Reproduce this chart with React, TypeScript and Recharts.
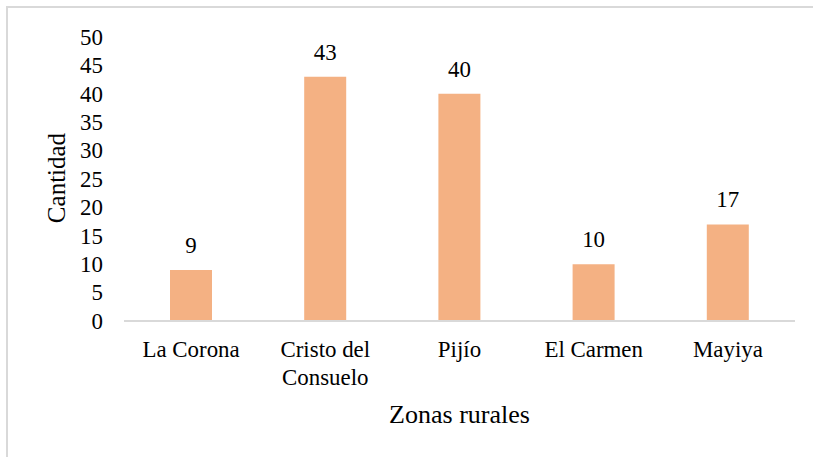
import { useEffect, useState } from 'react';
import { BarChart, Bar, XAxis, YAxis, LabelList, Label } from 'recharts';

const zonas = ['La Corona', 'Cristo del Consuelo', 'Pijío', 'El Carmen', 'Mayiya'];
const cantidad = [9, 43, 40, 10, 17];
const yTicks = [0, 5, 10, 15, 20, 25, 30, 35, 40, 45, 50];

const data = zonas.map((zona, i) => ({ zona, cantidad: cantidad[i] }));

const FONT = "'Times New Roman', 'Liberation Serif', serif";
const TICK_SIZE = 22.9;
const BAR_COLOR = '#F4B183';
const LINE_COLOR = '#D9D9D9';

const textStyle = (size: number) => ({ fontFamily: FONT, fontSize: size, fill: '#000' });

// greedy word wrap, roughly what fits in one category band
const wrap = (label: string, maxChars = 10) => {
  const lines: string[] = [];
  let cur = '';
  label.split(' ').forEach((w) => {
    const next = cur ? `${cur} ${w}` : w;
    if (next.length > maxChars && cur) {
      lines.push(cur);
      cur = w;
    } else {
      cur = next;
    }
  });
  if (cur) lines.push(cur);
  return lines;
};

const CategoryTick = (props: any) => {
  const { x, y, payload } = props;
  const lines = wrap(String(payload.value));
  return (
    <text x={x} y={y} textAnchor='middle' fontFamily={FONT} style={textStyle(TICK_SIZE)}>
      {lines.map((line, i) => (
        <tspan key={i} x={x} dy={i === 0 ? 16 : 28}>
          {line}
        </tspan>
      ))}
    </text>
  );
};

const ValueTick = (props: any) => {
  const { x, y, payload } = props;
  return (
    <text x={x} y={y} dy='0.34em' textAnchor='end' fontFamily={FONT} style={textStyle(TICK_SIZE)}>
      {payload.value}
    </text>
  );
};

const BarValue = (props: any) => {
  const { x, y, width, value } = props;
  return (
    <text
      x={Number(x) + Number(width) / 2}
      y={Number(y) - 17}
      textAnchor='middle'
      fontFamily={FONT}
      style={textStyle(TICK_SIZE)}
    >
      {value}
    </text>
  );
};

const XTitle = (props: any) => {
  const vb = props.viewBox || {};
  return (
    <text
      x={vb.x + vb.width / 2}
      y={vb.y + 102}
      textAnchor='middle'
      fontFamily={FONT}
      style={textStyle(26)}
    >
      Zonas rurales
    </text>
  );
};

const YTitle = (props: any) => {
  const vb = props.viewBox || {};
  const cx = vb.x + 21;
  const cy = vb.y + vb.height / 2 - 1;
  return (
    <text
      x={cx}
      y={cy}
      transform={`rotate(-90 ${cx} ${cy})`}
      textAnchor='middle'
      fontFamily={FONT}
      style={textStyle(25)}
    >
      Cantidad
    </text>
  );
};

export default function App() {
  // remount the chart once fonts are settled so every text picks up the serif face
  const [gen, setGen] = useState(0);
  useEffect(() => {
    let alive = true;
    const bump = () => {
      if (alive) setGen((g) => g + 1);
    };
    const fonts = (document as any).fonts;
    if (fonts && fonts.ready) fonts.ready.then(() => requestAnimationFrame(bump));
    const t = setTimeout(bump, 80);
    return () => {
      alive = false;
      clearTimeout(t);
    };
  }, []);

  return (
    <div
      style={{
        position: 'absolute',
        left: 0,
        top: 0,
        width: 813,
        height: 457,
        overflow: 'hidden',
        background: '#fff',
        fontFamily: FONT,
      }}
    >
      {/* gray frame, only top and left edges visible */}
      <div
        style={{
          position: 'absolute',
          left: 6,
          top: 6,
          width: 807,
          height: 451,
          borderTop: `2px solid ${LINE_COLOR}`,
          borderLeft: `2px solid ${LINE_COLOR}`,
          boxSizing: 'border-box',
        }}
      />
      <div key={gen} style={{ position: 'absolute', left: 0, top: 0 }}>
        <BarChart
          width={813}
          height={457}
          data={data}
          margin={{ top: 37, right: 18, left: 44, bottom: 26 }}
        >
          <XAxis
            dataKey='zona'
            height={110}
            axisLine={{ stroke: LINE_COLOR, strokeWidth: 2 }}
            tickLine={false}
            tickSize={0}
            tickMargin={20}
            interval={0}
            tick={<CategoryTick />}
          >
            <Label content={<XTitle />} />
          </XAxis>
          <YAxis
            width={80}
            domain={[0, 50]}
            ticks={yTicks}
            interval={0}
            axisLine={false}
            tickLine={false}
            tickSize={0}
            tickMargin={21}
            tick={<ValueTick />}
          >
            <Label content={<YTitle />} />
          </YAxis>
          <Bar
            dataKey='cantidad'
            fill={BAR_COLOR}
            barSize={42}
            isAnimationActive={false}
          >
            <LabelList dataKey='cantidad' content={<BarValue />} />
          </Bar>
        </BarChart>
      </div>
    </div>
  );
}
